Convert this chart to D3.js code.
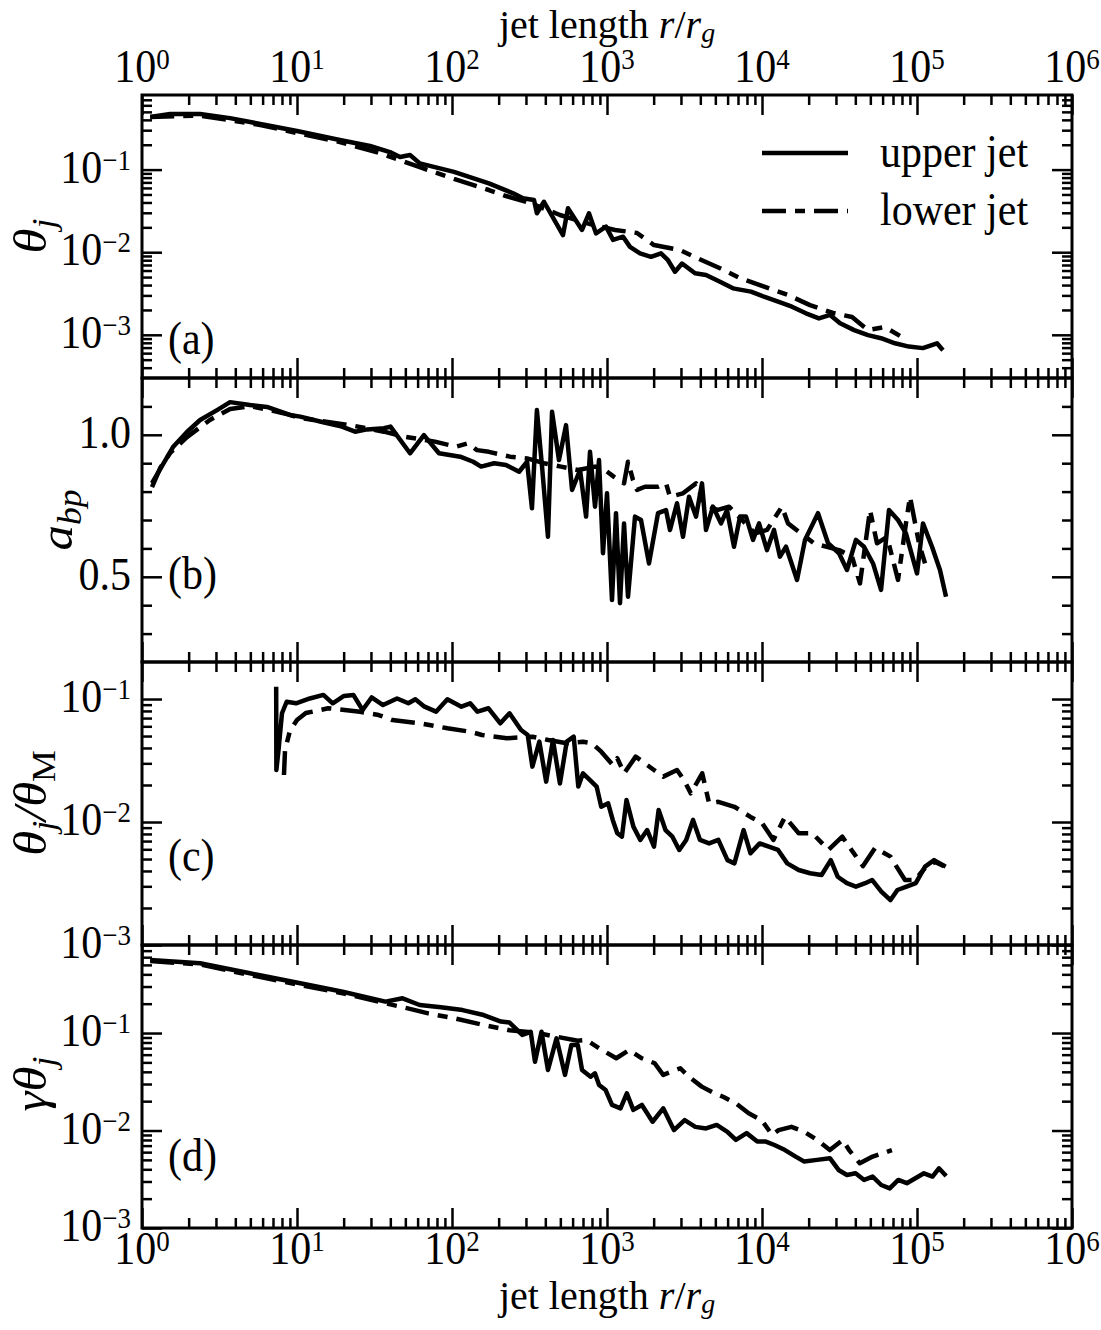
<!DOCTYPE html>
<html>
<head>
<meta charset="utf-8">
<script src="https://cdn.jsdelivr.net/npm/d3@7"></script>
<style>
body { margin: 0; background: #fff; }
text { font-family: "Liberation Serif", "DejaVu Serif", serif; fill: #000; }
</style>
</head>
<body>
<svg id="chart" width="1101" height="1330"></svg>
<script>
// ---- data: [r / r_g, value] ----
const upperTheta = [[1.13,0.433],[1.52,0.471],[2.37,0.471],[3.7,0.42],[5.8,0.357],[10,0.293],[18.9,0.228],[29.6,0.193],[39.8,0.163],[46.2,0.142],[53.6,0.150],[62,0.119],[103,0.094],[173,0.068],[248,0.0516],[287,0.0449],[338,0.0428],[353,0.0296],[392,0.0408],[520,0.0161],[560,0.034],[690,0.0186],[765,0.0296],[849,0.0169],[985,0.0204],[1094,0.0141],[1270,0.0154],[1407,0.0116],[1633,0.0097],[1923,0.0088],[2230,0.0097],[2475,0.008],[2746,0.0058],[3048,0.0073],[3698,0.00555],[4355,0.0053],[5358,0.0044],[6500,0.00365],[8490,0.00333],[10300,0.00289],[12700,0.00252],[15600,0.00219],[19200,0.00182],[23300,0.00158],[27500,0.00174],[31900,0.00138],[39300,0.00114],[48300,0.00099],[58600,0.00091],[72100,0.00079],[88700,0.00072],[109000,0.00069],[134600,0.00079],[147000,0.00065]];
const lowerTheta = [[1.13,0.433],[2.37,0.45],[5.8,0.347],[10,0.277],[18.9,0.216],[34,0.159],[62,0.107],[103,0.077],[173,0.0566],[223,0.0479],[319,0.0394],[497,0.0282],[777,0.0219],[1127,0.0186],[1563,0.0171],[2010,0.0122],[2958,0.0106],[4100,0.008],[5360,0.0064],[7210,0.00486],[10000,0.0039],[14700,0.00303],[20400,0.00229],[28700,0.00184],[38100,0.00164],[48300,0.00114],[62200,0.00124],[77600,0.00097]];

const upperAbp = [[1.16,0.83],[1.585,0.957],[1.95,1.01],[2.37,1.052],[3.05,1.087],[3.7,1.115],[4.97,1.105],[6.4,1.098],[9.0,1.07],[10.5,1.064],[14.3,1.046],[19.5,1.029],[23.7,1.011],[28.3,1.019],[36.4,1.023],[40.1,1.029],[53.6,0.935],[65.9,0.999],[82.4,0.935],[113,0.923],[137,0.905],[154,0.888],[187,0.9],[223,0.894],[271,0.87],[305,0.905],[328,0.741],[353,1.087],[381,0.888],[416,0.641],[442,1.081],[490,0.911],[544,1.034],[595,0.806],[670,0.876],[733,0.712],[777,0.94],[837,0.747],[888,0.911],[942,0.583],[1000,0.794],[1077,0.418],[1143,0.724],[1213,0.407],[1288,0.688],[1366,0.43],[1516,0.712],[1657,0.70],[1866,0.547],[2134,0.724],[2403,0.735],[2549,0.665],[2829,0.759],[3093,0.641],[3381,0.782],[3752,0.712],[4101,0.829],[4353,0.665],[4830,0.747],[5437,0.688],[5946,0.735],[6595,0.606],[7213,0.712],[7888,0.712],[8750,0.63],[9570,0.688],[10770,0.594],[11950,0.665],[13060,0.571],[14290,0.606],[16830,0.489],[18940,0.63],[22980,0.724],[26680,0.618],[31400,0.583],[35340,0.524],[40370,0.63],[45500,0.606],[52040,0.547],[58630,0.454],[65960,0.735],[75410,0.70],[84870,0.653],[100000,0.512],[109300,0.688],[125000,0.606],[140700,0.524],[153900,0.43]];
const lowerAbp = [[1.16,0.816],[1.31,0.883],[1.52,0.936],[1.95,0.992],[2.74,1.052],[3.7,1.091],[4.97,1.101],[6.7,1.087],[9.0,1.07],[10.5,1.059],[22,1.034],[36.4,1.011],[49.7,0.993],[77.6,0.976],[106,0.958],[127,0.97],[145,0.946],[173,0.94],[237,0.923],[305,0.917],[392,0.9],[505,0.888],[650,0.876],[837,0.888],[971,0.876],[1110,0.852],[1288,0.829],[1366,0.905],[1471,0.841],[1562,0.806],[1759,0.817],[2134,0.817],[2403,0.829],[2549,0.782],[3093,0.794],[3752,0.829],[4226,0.759],[5126,0.735],[6126,0.747],[7431,0.70],[9015,0.653],[10770,0.665],[13450,0.747],[14720,0.688],[17860,0.653],[21650,0.618],[25880,0.606],[31400,0.594],[38090,0.571],[42870,0.477],[49740,0.735],[55200,0.618],[64040,0.641],[75410,0.489],[84870,0.688],[90120,0.782],[103000,0.618],[112700,0.547]];

const upperRatio = [[7.34,0.126],[7.36,0.0265],[7.6,0.0385],[8.0,0.0766],[8.58,0.095],[9.86,0.0923],[12.1,0.101],[14.8,0.108],[17.0,0.0923],[20.1,0.106],[23.1,0.108],[26.5,0.0815],[30.3,0.103],[35.9,0.0894],[44.2,0.101],[52.3,0.0923],[58,0.0995],[66.5,0.0867],[78.9,0.0789],[93.4,0.0995],[115,0.0867],[131,0.0923],[146,0.0789],[172,0.0841],[205,0.0635],[235,0.0766],[279,0.056],[308,0.051],[330,0.0282],[366,0.045],[405,0.0213],[448,0.0464],[497,0.0206],[550,0.045],[610,0.0494],[653,0.0194],[700,0.0249],[774,0.022],[857,0.0194],[918,0.0133],[1017,0.0142],[1089,0.0104],[1165,0.0081],[1248,0.0076],[1336,0.0151],[1480,0.00917],[1640,0.00715],[1817,0.0086],[2010,0.0063],[2153,0.0125],[2384,0.0086],[2642,0.0076],[2926,0.00593],[3243,0.00715],[3589,0.0104],[3981,0.00715],[4558,0.0067],[5228,0.00715],[5988,0.0049],[6637,0.00461],[7609,0.0086],[8432,0.00557],[9660,0.0067],[11070,0.0063],[12690,0.00593],[14550,0.00461],[17250,0.00407],[20430,0.00383],[24230,0.00371],[27780,0.0049],[30780,0.00359],[35290,0.00318],[40360,0.00298],[46330,0.00318],[51300,0.00338],[58880,0.00272],[67450,0.00232],[74750,0.0028],[85640,0.00298],[98200,0.00318],[112700,0.00434],[128900,0.0049],[153100,0.00434]];
const lowerRatio = [[8.24,0.0241],[8.37,0.0385],[9.0,0.055],[10,0.0675],[11.4,0.0769],[15.9,0.0841],[25.5,0.0789],[33.6,0.0741],[41.2,0.0675],[62.2,0.0635],[93.4,0.0578],[131,0.0542],[156,0.051],[226,0.048],[330,0.0494],[419,0.0464],[550,0.0437],[700,0.045],[800,0.0437],[918,0.0373],[1089,0.0291],[1165,0.033],[1291,0.0249],[1531,0.034],[1757,0.03],[2010,0.0265],[2305,0.0234],[2830,0.0265],[3135,0.022],[3473,0.0171],[4114,0.0249],[4558,0.0142],[5228,0.0146],[6637,0.0133],[8432,0.011],[10000,0.0098],[11850,0.00715],[14070,0.011],[17250,0.0081],[21150,0.0081],[26850,0.00593],[32960,0.0076],[37780,0.00593],[44830,0.00438],[53600,0.00615],[67450,0.00523],[73800,0.00434],[83700,0.00338],[97100,0.00338],[112700,0.00423],[130700,0.00473],[149300,0.00438]];

const upperGamma = [[1.13,0.561],[2.37,0.519],[4.97,0.41],[10.5,0.324],[19.7,0.265],[37.2,0.21],[48,0.227],[61.9,0.194],[84.9,0.184],[117,0.172],[160,0.153],[207,0.131],[235,0.128],[284,0.0955],[322,0.103],[343,0.0508],[378,0.103],[416,0.0418],[472,0.0883],[536,0.0372],[589,0.0753],[648,0.0753],[690,0.0418],[784,0.0356],[836,0.0386],[889,0.0293],[980,0.026],[1077,0.0183],[1222,0.0169],[1343,0.0241],[1478,0.0163],[1679,0.0183],[1968,0.0123],[2305,0.0169],[2703,0.0101],[3168,0.0128],[3715,0.0109],[4352,0.0105],[5102,0.0114],[5981,0.0097],[6786,0.008],[7955,0.0094],[9325,0.0077],[10590,0.0077],[12030,0.0071],[14070,0.0063],[16490,0.0054],[18740,0.0048],[22660,0.005],[27400,0.0052],[31180,0.00394],[35320,0.0035],[40150,0.00364],[45590,0.00311],[51760,0.00337],[58780,0.00276],[66700,0.00255],[75730,0.00311],[85960,0.00288],[97640,0.00324],[110900,0.00364],[125900,0.00337],[138500,0.0041],[154300,0.00342]];
const lowerGamma = [[1.13,0.548],[2.37,0.505],[4.97,0.394],[10.5,0.311],[19.7,0.256],[37.2,0.202],[51.1,0.18],[70.2,0.159],[103,0.142],[160,0.121],[235,0.107],[343,0.101],[472,0.0917],[648,0.0834],[735,0.0849],[889,0.0698],[1147,0.0551],[1389,0.067],[1679,0.0551],[2031,0.049],[2305,0.0372],[2972,0.0435],[3375,0.0356],[4083,0.0282],[4939,0.0241],[5611,0.0222],[6786,0.019],[8207,0.015],[9930,0.0128],[11640,0.009],[12800,0.0101],[15490,0.0109],[18740,0.0097],[22660,0.008],[27400,0.0063],[33170,0.008],[36480,0.0063],[42760,0.00461],[51760,0.0054],[68900,0.0063]];

// ticks and labels
const xMajor = [1, 10, 100, 1e3, 1e4, 1e5, 1e6];
const logYMajorA = [1e-1, 1e-2, 1e-3];
const linYMajorB = [0.5, 1.0];
const logYMajorC = [1e-1, 1e-2, 1e-3];
const logYMajorD = [1e-1, 1e-2, 1e-3];
const panelNames = ['(a)', '(b)', '(c)', '(d)'];
const legendNames = ['upper jet', 'lower jet'];

// ---- layout ----
const svg = d3.select('#chart');
const left = 142, right = 1072;
const tops = [95, 378, 662, 945], bottom = 1228;
const TS = 1.08;               // glyphs in the reference are a bit tall
const dashDot = '24,9,10,9';

const x = d3.scaleLog().domain([1, 1e6]).range([left, right]);
const xMinor = d3.range(0, 6).flatMap(e => d3.range(2, 10).map(k => k * Math.pow(10, e)));

function logMinor(lo, hi) {
  const out = [];
  for (let e = -5; e < 2; e++) for (let k = 2; k < 10; k++) {
    const v = k * Math.pow(10, e);
    if (v > lo * 1.0001 && v < hi * 0.9999) out.push(v);
  }
  return out;
}

const panels = [
  { y: d3.scaleLog().domain([3e-4, 0.8]), log: true, major: logYMajorA, upper: upperTheta, lower: lowerTheta },
  { y: d3.scaleLinear().domain([0.2, 1.2]), log: false, major: linYMajorB, upper: upperAbp, lower: lowerAbp },
  { y: d3.scaleLog().domain([1e-3, 0.2]), log: true, major: logYMajorC, upper: upperRatio, lower: lowerRatio },
  { y: d3.scaleLog().domain([1e-3, 0.8]), log: true, major: logYMajorD, upper: upperGamma, lower: lowerGamma }
];

function txt(g, px, py, anchor, size, stretch = TS) {
  return g.append('text')
    .attr('transform', `translate(${px},${py}) scale(1,${stretch})`)
    .attr('text-anchor', anchor)
    .attr('font-size', size);
}
function pow10(t, e) {
  t.append('tspan').text('10');
  t.append('tspan').attr('font-size', 27).attr('dy', -12).text(e < 0 ? '\u2212' + (-e) : String(e));
}
function styleAxis(g) {
  g.select('.domain').remove();
  g.selectAll('.tick line').attr('stroke', '#000').attr('stroke-width', 2.5);
}

panels.forEach((p, i) => {
  const top = tops[i], bot = i < 3 ? tops[i + 1] : bottom;
  p.y.range([bot, top]);
  const [lo, hi] = p.y.domain();
  const minor = p.log ? logMinor(lo, hi)
    : d3.range(3, 12).map(k => k / 10).filter(v => !p.major.some(m => Math.abs(m - v) < 1e-6));
  const g = svg.append('g');

  // x ticks, inward on top and bottom
  [[d3.axisTop, top], [d3.axisBottom, bot]].forEach(([ax, yy]) => {
    g.append('g').attr('transform', `translate(0,${yy})`)
      .call(ax(x).tickValues(xMajor).tickSize(-20).tickFormat('')).call(styleAxis);
    g.append('g').attr('transform', `translate(0,${yy})`)
      .call(ax(x).tickValues(xMinor).tickSize(-10).tickFormat('')).call(styleAxis);
  });
  // y ticks, inward on left and right
  [[d3.axisLeft, left], [d3.axisRight, right]].forEach(([ax, xx]) => {
    g.append('g').attr('transform', `translate(${xx},0)`)
      .call(ax(p.y).tickValues(p.major).tickSize(-20).tickFormat('')).call(styleAxis);
    g.append('g').attr('transform', `translate(${xx},0)`)
      .call(ax(p.y).tickValues(minor).tickSize(-10).tickFormat('')).call(styleAxis);
  });

  // y tick labels
  p.major.forEach(v => {
    const t = txt(g, 131, p.y(v) + 13, 'end', 42);
    if (p.log) pow10(t, Math.round(Math.log10(v)));
    else t.text(v.toFixed(1));
  });

  // data
  const line = d3.line().x(d => x(d[0])).y(d => p.y(d[1]));
  g.append('path').datum(p.lower).attr('d', line)
    .attr('fill', 'none').attr('stroke', '#000').attr('stroke-width', 4.5)
    .attr('stroke-dasharray', dashDot).attr('stroke-linejoin', 'round');
  g.append('path').datum(p.upper).attr('d', line)
    .attr('fill', 'none').attr('stroke', '#000').attr('stroke-width', 4.5)
    .attr('stroke-linejoin', 'round');

  // frame
  g.append('rect').attr('x', left).attr('y', top).attr('width', right - left).attr('height', bot - top)
    .attr('fill', 'none').attr('stroke', '#000').attr('stroke-width', 3);

  // panel letter
  const letterY = [354, 589, 871, 1171];
  txt(g, 168, letterY[i], 'start', 42).text(panelNames[i]);
});

// x tick labels top and bottom
xMajor.forEach(v => {
  pow10(txt(svg, x(v), 82, 'middle', 42), Math.round(Math.log10(v)));
  pow10(txt(svg, x(v), 1264, 'middle', 42), Math.round(Math.log10(v)));
});

// axis titles
function xTitle(py) {
  const t = txt(svg, (left + right) / 2, py, 'middle', 40, 1);
  t.append('tspan').text('jet length ');
  t.append('tspan').attr('font-style', 'italic').text('r');
  t.append('tspan').text('/');
  t.append('tspan').attr('font-style', 'italic').text('r');
  t.append('tspan').attr('font-style', 'italic').attr('font-size', 28).attr('dy', 4).text('g');
}
xTitle(38);
xTitle(1309);

function yTitle(px, py, parts) {
  const t = svg.append('text')
    .attr('transform', `translate(${px},${py}) rotate(-90) scale(${TS},1)`)
    .attr('text-anchor', 'middle').attr('font-size', 47);
  let shift = 0;
  parts.forEach(([s, italic, sub]) => {
    const ts = t.append('tspan').text(s);
    if (italic) ts.attr('font-style', 'italic');
    if (sub && shift === 0) { ts.attr('font-size', 33).attr('dy', 9); shift = 1; }
    else if (!sub && shift === 1) { ts.attr('dy', -9); shift = 0; }
    else if (sub) ts.attr('font-size', 33);
  });
}
yTitle(46, 236, [['\u03b8', true, false], ['j', true, true]]);
yTitle(72, 520, [['a', true, false], ['bp', true, true]]);
yTitle(46, 803, [['\u03b8', true, false], ['j', true, true], ['/\u03b8', true, false], ['M', false, true]]);
yTitle(46, 1084, [['\u03b3\u03b8', true, false], ['j', true, true]]);

// legend
const legendY = [153, 211];
legendNames.forEach((name, k) => {
  svg.append('line').attr('x1', 762).attr('x2', 848).attr('y1', legendY[k]).attr('y2', legendY[k])
    .attr('stroke', '#000').attr('stroke-width', 4.5)
    .attr('stroke-dasharray', k === 1 ? dashDot : null);
  txt(svg, 880, legendY[k] + 14, 'start', 42).text(name);
});
</script>
</body>
</html>
